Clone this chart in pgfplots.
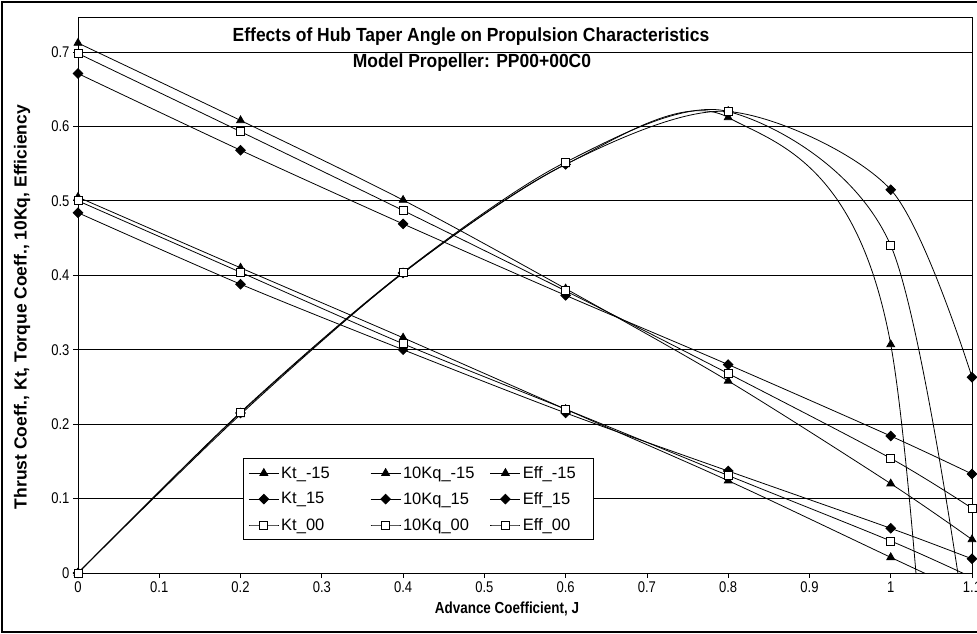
\documentclass[border=0pt]{standalone}
\usepackage{fontspec}
\setmainfont{Liberation Sans}
\newfontfamily\narA[FakeStretch=0.92]{Liberation Sans}
\newfontfamily\narB[FakeStretch=0.84]{Liberation Sans}
\usepackage{pgfplots}
\pgfplotsset{compat=1.18}
\begin{document}
\begin{tikzpicture}[x=1pt,y=1pt]
\useasboundingbox (0,0) rectangle (977,634);
\draw[line width=2.5pt] (2,2) rectangle (995,632);
\begin{axis}[
  at={(78pt,61pt)}, anchor=south west, scale only axis,
  width=894pt, height=556pt,
  xmin=0, xmax=1.1, ymin=0, ymax=0.747,
  xtick={0,0.1,0.2,0.3,0.4,0.5,0.6,0.7,0.8,0.9,1,1.1},
  xticklabels={0,0.1,0.2,0.3,0.4,0.5,0.6,0.7,0.8,0.9,1,1.1},
  ytick={0,0.1,0.2,0.3,0.4,0.5,0.6,0.7},
  yticklabels={0,0.1,0.2,0.3,0.4,0.5,0.6,0.7},
  /pgf/number format/assume math mode=true,
  tick pos=left, tick align=outside, major tick length=5pt,
  ymajorgrids, grid style={black, line width=0.8pt},
  axis line style={line width=0.8pt},
  tick style={black, line width=0.8pt},
  tick label style={font=\narB\fontsize{15.5}{17}\selectfont},
  every axis plot/.append style={black, line width=0.8pt, smooth, tension=0.5},
  legend columns=3,
  legend cell align=left,
  legend style={at={(axis description cs:0.1846,0.2068)}, anchor=north west,
    draw=black, fill=white, line width=0.8pt, font=\fontsize{16.5}{18}\selectfont,
    row sep=8.5pt, inner xsep=5pt, inner ysep=6pt},
  legend image code/.code={\draw[#1, mark repeat=2, mark phase=2] plot coordinates {(0pt,0pt)(15pt,0pt)(30pt,0pt)};},
]
% Kt_-15
\addplot[mark=triangle*, mark size=4.5pt] coordinates {(0,0.712)(0.2,0.608)(0.4,0.501)(0.6,0.382)(0.8,0.258)(1.0,0.12)(1.1,0.045)};
\addlegendentry{\makebox[87pt][l]{Kt\_-15}}
% 10Kq_-15
\addplot[mark=triangle*, mark size=4.5pt] coordinates {(0,0.505)(0.2,0.41)(0.4,0.316)(0.6,0.22)(0.8,0.124)(1.0,0.021)(1.1,-0.03)};
\addlegendentry{\makebox[85pt][l]{10Kq\_-15}}
% Eff_-15
\addplot[mark=triangle*, mark size=4.5pt] coordinates {(0,0)(0.2,0.213)(0.4,0.403)(0.6,0.549)(0.8,0.612)(1.0,0.307)(1.1,-1.17)};
\addlegendentry{\makebox[64pt][l]{Eff\_-15}}
% Kt_15
\addplot[mark=square*, mark size=3.4pt, mark options={rotate=45}] coordinates {(0,0.671)(0.2,0.568)(0.4,0.469)(0.6,0.373)(0.8,0.28)(1.0,0.184)(1.1,0.133)};
\addlegendentry{Kt\_15}
% 10Kq_15
\addplot[mark=square*, mark size=3.4pt, mark options={rotate=45}] coordinates {(0,0.484)(0.2,0.388)(0.4,0.300)(0.6,0.215)(0.8,0.137)(1.0,0.06)(1.1,0.019)};
\addlegendentry{10Kq\_15}
% Eff_15
\addplot[mark=square*, mark size=3.4pt, mark options={rotate=45}] coordinates {(0,0)(0.2,0.215)(0.4,0.403)(0.6,0.549)(0.8,0.62)(1.0,0.515)(1.1,0.263)};
\addlegendentry{Eff\_15}
% Kt_00
\addplot[mark=square*, mark size=4pt, mark options={fill=white}] coordinates {(0,0.698)(0.2,0.593)(0.4,0.487)(0.6,0.379)(0.8,0.268)(1.0,0.154)(1.1,0.087)};
\addlegendentry{Kt\_00}
% 10Kq_00
\addplot[mark=square*, mark size=4pt, mark options={fill=white}] coordinates {(0,0.5)(0.2,0.404)(0.4,0.308)(0.6,0.22)(0.8,0.131)(1.0,0.043)(1.1,-0.006)};
\addlegendentry{10Kq\_00}
% Eff_00
\addplot[mark=square*, mark size=4pt, mark options={fill=white}] coordinates {(0,0)(0.2,0.216)(0.4,0.404)(0.6,0.552)(0.8,0.62)(1.0,0.44)(1.1,-0.13)};
\addlegendentry{Eff\_00}
\end{axis}
\node[font=\narA\bfseries\fontsize{19}{21}\selectfont] at (471,597) {Effects of Hub Taper Angle on Propulsion Characteristics};
\node[font=\narA\bfseries\fontsize{19}{21}\selectfont] at (472,571) {Model Propeller: PP00+00C0};
\node[font=\narB\bfseries\fontsize{16}{18}\selectfont] at (507,25) {Advance Coefficient, J};
\node[font=\bfseries\fontsize{17.5}{19}\selectfont, rotate=90] at (22,327) {Thrust Coeff., Kt, Torque Coeff., 10Kq, Efficiency};
\end{tikzpicture}
\end{document}
